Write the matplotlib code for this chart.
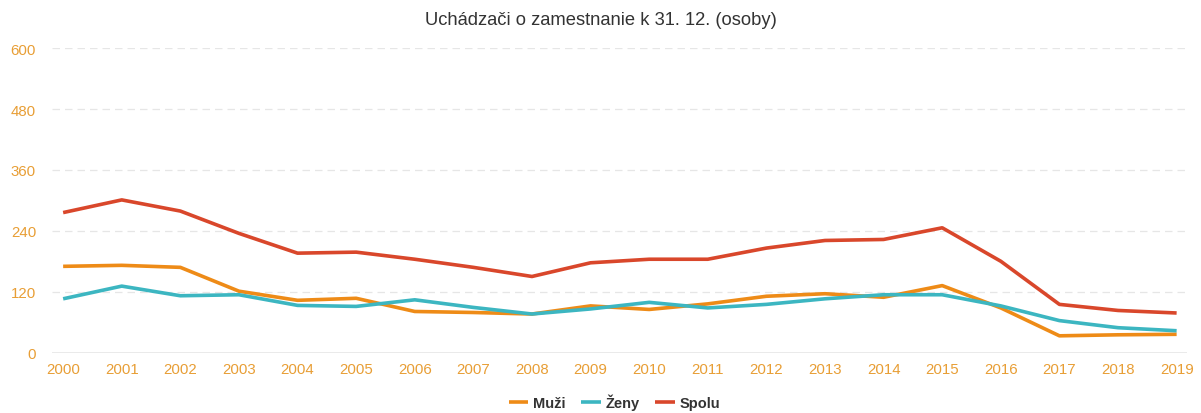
import matplotlib
matplotlib.use("Agg")
import matplotlib.pyplot as plt

plt.rcParams['font.family'] = ['Liberation Sans', 'DejaVu Sans']

years = [str(y) for y in range(2000, 2020)]
muzi = [170, 172, 168, 121, 103, 107, 81, 79, 76, 92, 85, 96, 111, 116, 109, 132, 88, 33, 35, 36]
zeny = [106, 131, 112, 114, 93, 91, 104, 89, 76, 86, 99, 88, 95, 106, 114, 114, 92, 63, 49, 43]
spolu = [276, 301, 279, 235, 196, 198, 184, 168, 150, 177, 184, 184, 206, 221, 223, 246, 180, 95, 83, 78]
yticks = [0, 120, 240, 360, 480, 600]

TICK_COLOR = "#e89e35"

fig = plt.figure(figsize=(12.01, 4.14), dpi=100)
ax = fig.add_axes([0.0433, 0.146, 0.9447, 0.735])

x = range(len(years))
ax.plot(x, muzi, color="#ee8b17", lw=2.6, label="Muži", solid_capstyle="butt")
ax.plot(x, zeny, color="#3cb6c1", lw=2.6, label="Ženy", solid_capstyle="butt")
ax.plot(x, spolu, color="#d9472b", lw=2.6, label="Spolu", solid_capstyle="butt")

ax.set_xlim(-0.19, 19.17)
ax.set_ylim(0, 600)
ax.set_yticks(yticks)
ax.set_xticks(list(x))
ax.set_xticklabels(years)

for y in yticks[1:]:
    ax.axhline(y, color="#e6e6e6", lw=0.9, ls=(0, (6, 4)), zorder=0)
ax.axhline(0, color="#e6e6e6", lw=1.2, zorder=0)

for s in ax.spines.values():
    s.set_visible(False)
ax.tick_params(axis="both", length=0, labelsize=10.8, colors=TICK_COLOR)
ax.tick_params(axis="y", pad=11.5)
ax.tick_params(axis="x", pad=7)

fig.text(0.5, 0.951, "Uchádzači o zamestnanie k 31. 12. (osoby)", ha="center", va="center",
         fontsize=13.2, color="#333333")

leg = fig.legend(loc="center", bbox_to_anchor=(0.5115, 0.027), ncol=3, frameon=False,
                 handlelength=1.35, handletextpad=0.3, columnspacing=1.1,
                 prop={"weight": "bold", "size": 10.5})
for t in leg.get_texts():
    t.set_color("#333333")

fig.savefig("out.png", dpi=100)
